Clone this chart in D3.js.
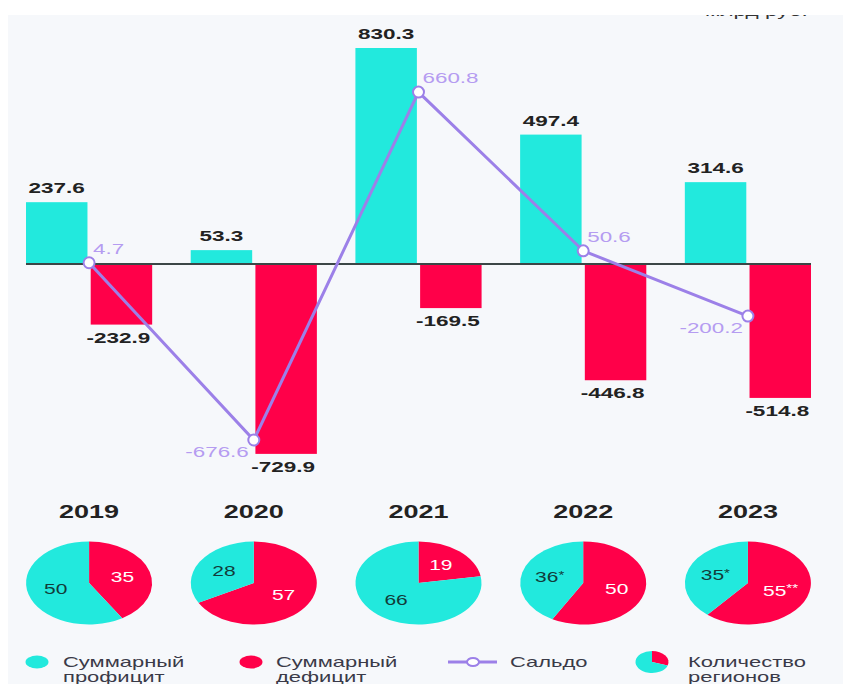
<!DOCTYPE html>
<html>
<head>
<meta charset="utf-8">
<script src="https://cdn.jsdelivr.net/npm/d3@7"></script>
<style>
  body { margin: 0; background: #fff; }
  svg { display: block; font-family: "Liberation Sans", Arial, sans-serif; }
</style>
</head>
<body>
<div id="chart"></div>
<script>
// data (bln rub.)
var years = ["2019", "2020", "2021", "2022", "2023"];
var surplus = [237.6, 53.3, 830.3, 497.4, 314.6];
var deficit = [-232.9, -729.9, -169.5, -446.8, -514.8];
var saldo = [4.7, -676.6, 660.8, 50.6, -200.2];
// number of regions
var regionsSurplus = [50, 28, 66, 36, 35];
var regionsDeficit = [35, 57, 19, 50, 55];
var notesSurplus = ["", "", "", "*", "*"];
var notesDeficit = ["", "", "", "", "**"];
var legendLabels = [["Суммарный", "профицит"], ["Суммарный", "дефицит"], ["Сальдо"], ["Количество", "регионов"]];

var W = 843, H = 684;
var cyan = "#22e9dd", red = "#ff0049", purple = "#9c80e8", purpleText = "#b59cf1";

// plain hyphen as the minus sign, like the original
var fmt = d3.formatLocale({decimal: ".", thousands: ",", grouping: [3], currency: ["", ""], minus: "-"}).format(".1f");

var svg = d3.select("#chart").append("svg")
    .attr("width", W).attr("height", H);

svg.append("rect").attr("width", W).attr("height", H).attr("fill", "#fff");
svg.append("rect").attr("x", 8).attr("y", 15).attr("width", W - 8).attr("height", H - 15).attr("fill", "#f6f8fb");

// horizontally stretched text, like the original picture
function stext(parent, x, y, txt, opt) {
  var g = parent.append("g")
      .attr("transform", "translate(" + x + "," + y + ") scale(" + (opt.sx || 1) + ",1)");
  var t = g.append("text")
      .attr("text-anchor", opt.anchor || "middle")
      .attr("font-size", opt.size)
      .attr("font-weight", opt.weight || "normal")
      .attr("fill", opt.fill)
      .text(txt);
  if (opt.dy) t.attr("dy", opt.dy);
  return t;
}

// unit text cut by the top edge
stext(svg, 705, 15.5, "млрд руб.", {size: 15, sx: 1.5, anchor: "start", fill: "#333"});
svg.append("rect").attr("width", W).attr("height", 15).attr("fill", "#fff");

// scales
var x = d3.scaleBand().domain(years).range([26, 811]).paddingInner(0.234);
var xs = d3.scaleBand().domain(["s", "d"]).range([0, x.bandwidth()]).paddingInner(0.05);
var k = 216 / 830.3;
var y = d3.scaleLinear().domain([-800, 900]).range([264 + 800 * k, 264 - 900 * k]);

var bars = svg.append("g").attr("class", "bars");
years.forEach(function(yr, i) {
  var g = bars.append("g").attr("transform", "translate(" + x(yr) + ",0)");
  g.append("rect")
      .attr("x", xs("s")).attr("width", xs.bandwidth())
      .attr("y", y(surplus[i])).attr("height", y(0) - y(surplus[i]))
      .attr("fill", cyan);
  g.append("rect")
      .attr("x", xs("d")).attr("width", xs.bandwidth())
      .attr("y", y(0)).attr("height", y(deficit[i]) - y(0))
      .attr("fill", red);
  stext(g, xs("s") + xs.bandwidth() / 2, y(surplus[i]) - 9, fmt(surplus[i]),
      {size: 15, weight: "bold", sx: 1.5, fill: "#222"});
  stext(g, xs("d") + xs.bandwidth() / 2 - 3, y(deficit[i]) + 18, fmt(deficit[i]),
      {size: 15, weight: "bold", sx: 1.5, fill: "#222"});
});

// zero line
svg.append("line")
    .attr("x1", x.range()[0]).attr("x2", x.range()[1])
    .attr("y1", y(0)).attr("y2", y(0))
    .attr("stroke", "#3b4646").attr("stroke-width", 2);

// saldo line
var cx = function(i) { return x(years[i]) + x.bandwidth() / 2; };
var line = d3.line().x(function(d, i) { return cx(i); }).y(function(d) { return y(d); });
svg.append("path").datum(saldo)
    .attr("d", line).attr("fill", "none")
    .attr("stroke", purple).attr("stroke-width", 3);
svg.selectAll(".pt").data(saldo).enter().append("circle")
    .attr("class", "pt")
    .attr("cx", function(d, i) { return cx(i); })
    .attr("cy", function(d) { return y(d); })
    .attr("r", 5.5)
    .attr("fill", "#fff").attr("stroke", purple).attr("stroke-width", 2);
saldo.forEach(function(v, i) {
  if (v >= 0) {
    stext(svg, cx(i) + 4, y(v) - 9, fmt(v), {size: 14, sx: 1.6, anchor: "start", fill: purpleText});
  } else {
    stext(svg, cx(i) - 5, y(v) + 17, fmt(v), {size: 14, sx: 1.6, anchor: "end", fill: purpleText});
  }
});

// pies of region counts
var rx = 63, ry = 41.5, pieY = 583;
var pie = d3.pie().sort(null).value(function(d) { return d.v; });
var arc = d3.arc().innerRadius(0).outerRadius(rx);
var labelArc = d3.arc().innerRadius(rx * 0.55).outerRadius(rx * 0.55);

years.forEach(function(yr, i) {
  var px = cx(i);
  stext(svg, px, 518, yr, {size: 18, weight: "bold", sx: 1.5, fill: "#222"});
  var slices = pie([
    {v: regionsDeficit[i], c: red, t: "#fff", n: notesDeficit[i]},
    {v: regionsSurplus[i], c: cyan, t: "#123c3a", n: notesSurplus[i]}
  ]);
  var g = svg.append("g").attr("transform", "translate(" + px + "," + pieY + ") scale(1," + (ry / rx) + ")");
  g.selectAll("path").data(slices).enter().append("path")
      .attr("d", arc).attr("fill", function(d) { return d.data.c; });
  slices.forEach(function(s) {
    var c = labelArc.centroid(s);
    var t = stext(svg, px + c[0], pieY + c[1] * ry / rx, s.data.v,
        {size: 14, sx: 1.5, fill: s.data.t, dy: "0.35em"});
    if (s.data.n) {
      t.append("tspan").attr("font-size", 10).attr("dy", "-0.35em").text(s.data.n);
    }
  });
});

// legend (stretched like the rest of the picture)
var leg = svg.append("g").attr("class", "legend");
var legX = [63, 276, 510, 688];
var legY = 662;
leg.append("ellipse").attr("cx", 37).attr("cy", legY).attr("rx", 11.5).attr("ry", 6.5).attr("fill", cyan);
leg.append("ellipse").attr("cx", 251).attr("cy", legY).attr("rx", 11.5).attr("ry", 6.5).attr("fill", red);
leg.append("line").attr("x1", 448).attr("x2", 497).attr("y1", legY).attr("y2", legY)
    .attr("stroke", purple).attr("stroke-width", 3);
leg.append("ellipse").attr("cx", 473).attr("cy", legY).attr("rx", 6).attr("ry", 4)
    .attr("fill", "#fff").attr("stroke", purple).attr("stroke-width", 2);
var iconPie = leg.append("g").attr("transform", "translate(652," + legY + ") scale(1.5,1)");
iconPie.selectAll("path").data(pie([{v: 30, c: red}, {v: 70, c: cyan}])).enter().append("path")
    .attr("d", d3.arc().innerRadius(0).outerRadius(11))
    .attr("fill", function(d) { return d.data.c; });
legendLabels.forEach(function(lines, i) {
  lines.forEach(function(l, j) {
    stext(leg, legX[i], 667 + j * 14.5, l, {size: 14, sx: 1.57, anchor: "start", fill: "#3a3a48"});
  });
});
</script>
</body>
</html>
